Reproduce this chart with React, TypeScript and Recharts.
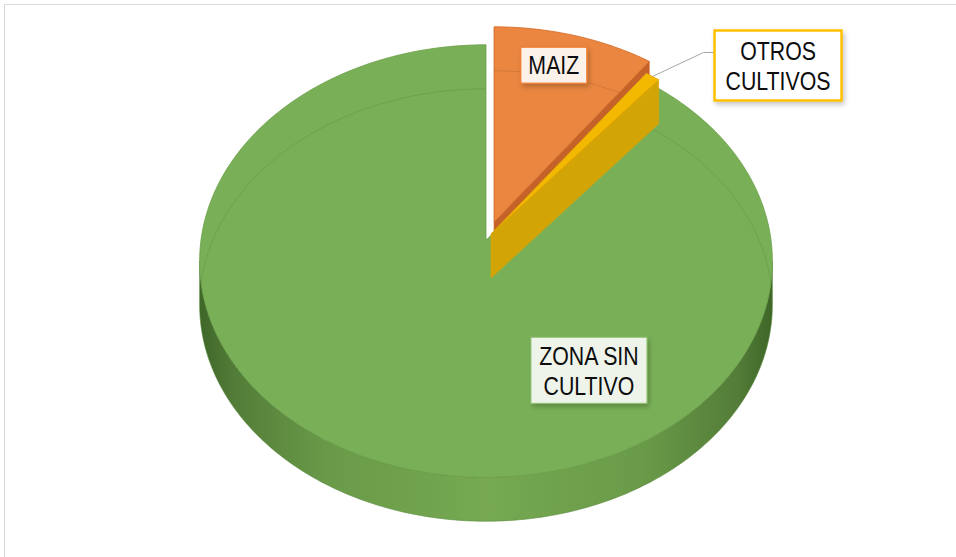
import React from "react";
import { PieChart, Pie } from "recharts";

// ---- data ----
const categories = ["MAIZ", "OTROS CULTIVOS", "ZONA SIN CULTIVO"];
const values = [10.0, 0.9, 89.1];
const labelLines = [["MAIZ"], ["OTROS", "CULTIVOS"], ["ZONA SIN", "CULTIVO"]];

const data = categories.map((name, i) => ({ name, value: values[i] }));

// ---- styles / geometry ----
const K = 0.0972; // perspective factor
const AR = 0.7515; // vertical/horizontal ratio
const DEPTH = 44;
const SIL = (Math.acos(-K) * 180) / Math.PI; // silhouette angle (~95.6)

type SliceStyle = {
  top: string;
  edge: string;
  face: string;
  dx: number;
  dy: number;
};

const sliceStyle: Record<string, SliceStyle> = {
  MAIZ: { top: "#EA8640", edge: "#D36A25", face: "#C4622A", dx: 8, dy: -18 },
  "OTROS CULTIVOS": { top: "#F3B800", edge: "#E0A500", face: "#D3A406", dx: 5, dy: -6 },
  "ZONA SIN CULTIVO": { top: "#79B057", edge: "#6A9E49", face: "#5E8F40", dx: 0, dy: 0 },
};

type LabelStyle = {
  phi?: number;
  r?: number;
  leader?: boolean;
  w: number;
  h: number;
  bg: string;
  border: string;
  bw: number;
};

const labelStyle: Record<string, LabelStyle> = {
  MAIZ: { phi: 16, r: 0.82, w: 66, h: 36, bg: "#FDF2EA", border: "#ED7D31", bw: 1.2 },
  "OTROS CULTIVOS": { leader: true, w: 127, h: 70, bg: "#FFFFFF", border: "#FFC000", bw: 2.5 },
  "ZONA SIN CULTIVO": { phi: 149.3, r: 0.668, w: 116, h: 66, bg: "#EEF4EA", border: "#93C274", bw: 1 },
};

function proj(cx: number, cy: number, R: number, phiDeg: number, r = 1): [number, number] {
  const p = (phiDeg * Math.PI) / 180;
  const u = r * Math.sin(p);
  const v = -r * Math.cos(p);
  const d = 1 - K * v;
  return [cx + (R * u) / d, cy + (AR * R * v) / d];
}

function arcPts(cx: number, cy: number, R: number, a: number, b: number, yOff = 0): [number, number][] {
  const pts: [number, number][] = [];
  const n = Math.max(2, Math.ceil(Math.abs(b - a) / 0.75));
  for (let i = 0; i <= n; i++) {
    const phi = a + ((b - a) * i) / n;
    const [x, y] = proj(cx, cy, R, phi);
    pts.push([x, y + yOff]);
  }
  return pts;
}

const toPath = (pts: [number, number][], close = true) =>
  pts.map((p, i) => `${i === 0 ? "M" : "L"}${p[0].toFixed(2)},${p[1].toFixed(2)}`).join(" ") + (close ? " Z" : "");

function Defs({ cx, R }: { cx: number; R: number }) {
  return (
    <defs>
      <linearGradient id="wallGrad" gradientUnits="userSpaceOnUse" x1={cx - R} y1={0} x2={cx + R} y2={0}>
        <stop offset="0" stopColor="#3F6729" />
        <stop offset="0.06" stopColor="#537D38" />
        <stop offset="0.22" stopColor="#699A48" />
        <stop offset="0.5" stopColor="#76A952" />
        <stop offset="0.78" stopColor="#699A48" />
        <stop offset="0.94" stopColor="#537D38" />
        <stop offset="1" stopColor="#3F6729" />
      </linearGradient>
      <filter id="lblShadow" x="-20%" y="-20%" width="150%" height="160%">
        <feDropShadow dx="2" dy="3" stdDeviation="2.5" floodColor="#000" floodOpacity="0.22" />
      </filter>
    </defs>
  );
}

function makeShape(target: string) {
  return (props: any) => {
    const name = props?.payload?.name ?? props?.name;
    if (name !== target) return <g />;
    const st = sliceStyle[name];
    const R = props.outerRadius;
    const cx = props.cx + st.dx;
    const cy = props.cy + st.dy;
    const p1 = 90 - props.startAngle;
    const p2 = 90 - props.endAngle;
    const isGreen = name === "ZONA SIN CULTIVO";
    const clipId = `clip-${categories.indexOf(name)}`;

    // outer wall (front part)
    const wa = Math.max(p1, SIL);
    const wb = Math.min(p2, 360 - SIL);
    let wall = null;
    if (wb > wa) {
      const topArc = arcPts(cx, cy, R, wa, wb);
      const botArc = arcPts(cx, cy, R, wb, wa, DEPTH);
      wall = (
        <path
          d={toPath([...topArc, ...botArc])}
          fill={isGreen ? "url(#wallGrad)" : st.face}
          stroke={isGreen ? "#5B8A3E" : st.edge}
          strokeWidth={0.6}
        />
      );
    }

    // radial faces (visible when facing the viewer)
    const faces: React.ReactNode[] = [];
    const s2 = Math.sin((p2 * Math.PI) / 180);
    if (s2 > 0.05 && p2 < 180) {
      const P = proj(cx, cy, R, p2);
      const pts: [number, number][] = [
        [cx, cy],
        P,
        [P[0], P[1] + DEPTH],
        [cx, cy + DEPTH],
      ];
      faces.push(<path key="end" d={toPath(pts)} fill={st.face} stroke={st.edge} strokeWidth={0.6} />);
    }
    const s1 = Math.sin((p1 * Math.PI) / 180);
    if (s1 < -0.05 && p1 > 180) {
      const P = proj(cx, cy, R, p1);
      const pts: [number, number][] = [
        [cx, cy],
        P,
        [P[0], P[1] + DEPTH],
        [cx, cy + DEPTH],
      ];
      faces.push(<path key="start" d={toPath(pts)} fill={st.face} stroke={st.edge} strokeWidth={0.6} />);
    }

    // top face
    const topPts: [number, number][] = [[cx, cy], ...arcPts(cx, cy, R, p1, p2)];
    const topD = toPath(topPts);

    // faint see-through back edge of the bottom face
    const backSegs: [number, number][] = [];
    const segs: [number, number][] = [
      [p1, Math.min(p2, SIL)],
      [Math.max(p1, 360 - SIL), p2],
    ];
    segs.forEach(([a, b]) => {
      if (b > a) backSegs.push([a, b]);
    });

    return (
      <g>
        {isGreen && <Defs cx={props.cx} R={R} />}
        <clipPath id={clipId}>
          <path d={topD} />
        </clipPath>
        {wall}
        {faces}
        <path d={topD} fill={st.top} stroke={st.edge} strokeWidth={0.8} strokeLinejoin="round" />
        <g clipPath={`url(#${clipId})`}>
          {backSegs.map(([a, b], i) => (
            <path
              key={i}
              d={toPath(arcPts(cx, cy, R, a, b, DEPTH), false)}
              fill="none"
              stroke="rgba(0,0,0,0.09)"
              strokeWidth={1}
            />
          ))}
        </g>
      </g>
    );
  };
}

const emptyShape = () => <g />;

function renderLabel(props: any) {
  const idx = typeof props.index === "number" ? props.index : categories.indexOf(props.name);
  const name = categories[idx];
  const ls = labelStyle[name];
  const st = sliceStyle[name];
  const R = props.outerRadius;
  const cx = props.cx + st.dx;
  const cy = props.cy + st.dy;
  let bx: number;
  let by: number;
  let leader: React.ReactNode = null;
  if (ls.leader) {
    const mid = 90 - props.midAngle;
    const A = proj(cx, cy, R, mid);
    const E: [number, number] = [A[0] + 51, A[1] - 24];
    const L: [number, number] = [E[0] + 11, E[1]];
    leader = (
      <polyline
        points={`${A[0]},${A[1]} ${E[0]},${E[1]} ${L[0]},${L[1]}`}
        fill="none"
        stroke="#A6A6A6"
        strokeWidth={1}
      />
    );
    bx = L[0] + ls.w / 2;
    by = L[1] + 13;
  } else {
    const P = proj(cx, cy, R, ls.phi as number, ls.r as number);
    bx = P[0];
    by = P[1];
  }
  const lines = labelLines[idx];
  const lh = 30;
  return (
    <g key={`lbl-${idx}`}>
      {leader}
      <rect
        x={bx - ls.w / 2}
        y={by - ls.h / 2}
        width={ls.w}
        height={ls.h}
        fill={ls.bg}
        stroke={ls.border}
        strokeWidth={ls.bw}
        filter="url(#lblShadow)"
      />
      {lines.map((t, i) => (
        <text
          key={i}
          x={0}
          y={0}
          transform={`translate(${bx},${by + (i - (lines.length - 1) / 2) * lh}) scale(0.82,1)`}
          textAnchor="middle"
          dominantBaseline="central"
          fontFamily="'Liberation Sans', Arial, sans-serif"
          fontSize={26}
          fill="#0D0D0D"
        >
          {t}
        </text>
      ))}
    </g>
  );
}

const order = ["ZONA SIN CULTIVO", "MAIZ", "OTROS CULTIVOS"];

export default function App() {
  const common = {
    data,
    dataKey: "value",
    nameKey: "name",
    cx: 486,
    cy: 240,
    outerRadius: 285,
    startAngle: 90,
    endAngle: -270,
    stroke: "none",
    isAnimationActive: false,
    labelLine: false,
  };
  return (
    <div style={{ position: "absolute", left: 0, top: 0, width: 956, height: 557, background: "#fff", overflow: "hidden" }}>
      <div
        style={{
          position: "absolute",
          left: 4,
          top: 4,
          width: 1000,
          height: 600,
          borderTop: "1.5px solid #D9D9D9",
          borderLeft: "1.5px solid #D9D9D9",
        }}
      />
      <div style={{ position: "absolute", left: 0, top: 0 }}>
        <PieChart width={956} height={557} margin={{ top: 0, right: 0, bottom: 0, left: 0 }}>
          {order.map((nm) => {
            const sh = makeShape(nm);
            return (
              <Pie
                key={nm}
                {...(common as any)}
                shape={sh}
                activeShape={sh}
                inactiveShape={sh}
                label={false}
              />
            );
          })}
          <Pie
            key="labels"
            {...(common as any)}
            shape={emptyShape}
            activeShape={emptyShape}
            inactiveShape={emptyShape}
            label={renderLabel}
          />
        </PieChart>
      </div>
    </div>
  );
}
